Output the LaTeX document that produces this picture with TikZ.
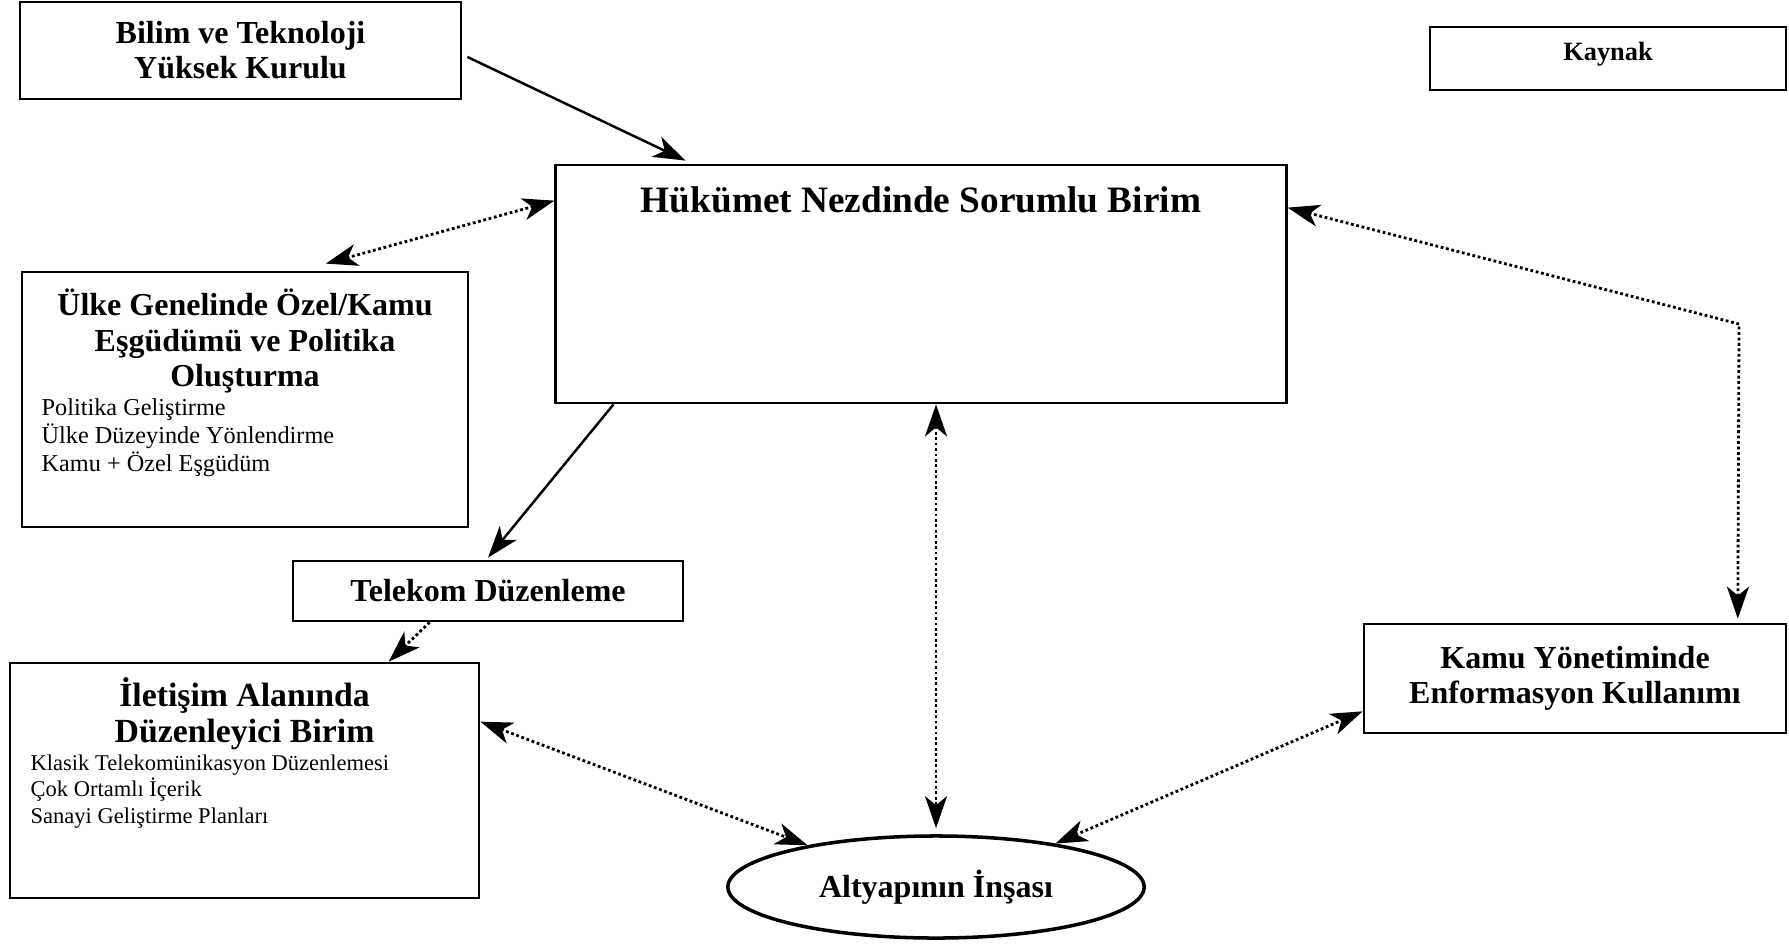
\documentclass[tikz,border=0pt]{standalone}
\usepackage{fontspec}
\setmainfont{Liberation Serif}
\usetikzlibrary{arrows.meta,calc,positioning,shapes.geometric}

\begin{document}
\begin{tikzpicture}[x=0.01cm,y=-0.01cm,>={Stealth[length=0.32cm,width=0.22cm,inset=0.09cm]},
 box/.style={draw,line width=.75pt,inner sep=0pt},
 hd/.style={font=\bfseries\fontsize{9.1}{10}\selectfont,align=center,inner sep=0pt},
 lst/.style={font=\fontsize{6.9}{8}\selectfont,align=left,inner sep=0pt,anchor=west},
 flow/.style={->,line width=.7pt},
 tie/.style={line width=.8pt,dash pattern=on .8pt off .75pt}]
\useasboundingbox (0,0) rectangle (1789,943);
\node[box,hd,minimum width=4.41cm,minimum height=0.97cm] (bilim) at (240.5,50.5) {Bilim ve Teknoloji\\Yüksek Kurulu};
\node[box,minimum width=3.56cm,minimum height=0.63cm] (kaynak) at (1608,58.5) {};
\node[font=\bfseries\fontsize{7.5}{9}\selectfont,inner sep=0pt] (kaynakT) at (1608,54) {Kaynak};
\node[box,minimum width=7.30cm,minimum height=2.38cm] (hukumet) at (921,284) {};
\node[font=\bfseries\fontsize{10.6}{12}\selectfont,inner sep=0pt] (hukumetT) at (921,200) {Hükümet Nezdinde Sorumlu Birim};
\node[box,minimum width=4.46cm,minimum height=2.55cm] (ulke) at (245,399.5) {};
\node[hd] (ulkeT) at (245,341) {Ülke Genelinde Özel/Kamu\\Eşgüdümü ve Politika\\Oluşturma};
\node[lst] (ulkeL) at (41,437.5) {Politika Geliştirme\\Ülke Düzeyinde Yönlendirme\\Kamu + Özel Eşgüdüm};
\node[box,hd,minimum width=3.90cm,minimum height=0.60cm] (telekom) at (488,591) {Telekom Düzenleme};
\node[box,minimum width=4.69cm,minimum height=2.35cm] (iletisim) at (244.5,780.5) {};
\node[hd,font=\bfseries\fontsize{9.6}{10.3}\selectfont] (iletisimT) at (244.5,713.5) {İletişim Alanında\\Düzenleyici Birim};
\node[lst,font=\fontsize{6.4}{7.5}\selectfont] (iletisimL) at (30,791.5) {Klasik Telekomünikasyon Düzenlemesi\\Çok Ortamlı İçerik\\Sanayi Geliştirme Planları};
\node[box,hd,minimum width=4.22cm,minimum height=1.09cm] (kamu) at (1575,678.5) {Kamu Yönetiminde\\Enformasyon Kullanımı};
\node[ellipse,draw,line width=1pt,inner sep=0pt,minimum width=4.16cm,minimum height=1.02cm,font=\bfseries\fontsize{9.1}{10}\selectfont] (altyapi) at (936,887) {Altyapının İnşası};
\coordinate (kose) at (1739,324);
\draw[flow] ([xshift=.05cm,yshift=-.065cm]bilim.east) -- ([xshift=1.31cm,yshift=.03cm]hukumet.north west);
\draw[tie,<->] ([yshift=-.37cm]hukumet.north west) -- ([xshift=3.05cm,yshift=.07cm]ulke.north west);
\draw[flow] ([xshift=.59cm]hukumet.south west) -- ([yshift=.02cm]telekom.north);
\draw[tie,->] ([xshift=1.38cm]telekom.south west) -- ([xshift=3.80cm]iletisim.north west);
\draw[tie,<->] (hukumet.south -| altyapi.north) -- ([yshift=.06cm]altyapi.north);
\draw[tie,<->] ([yshift=-.44cm]hukumet.north east) -- (kose) -- ([xshift=3.75cm,yshift=.04cm]kamu.north west);
\draw[tie,<->] ([yshift=-.60cm]iletisim.north east) -- (altyapi.162);
\draw[tie,<->] (altyapi.20) -- ([yshift=.23cm]kamu.south west);
\end{tikzpicture}
\end{document}
